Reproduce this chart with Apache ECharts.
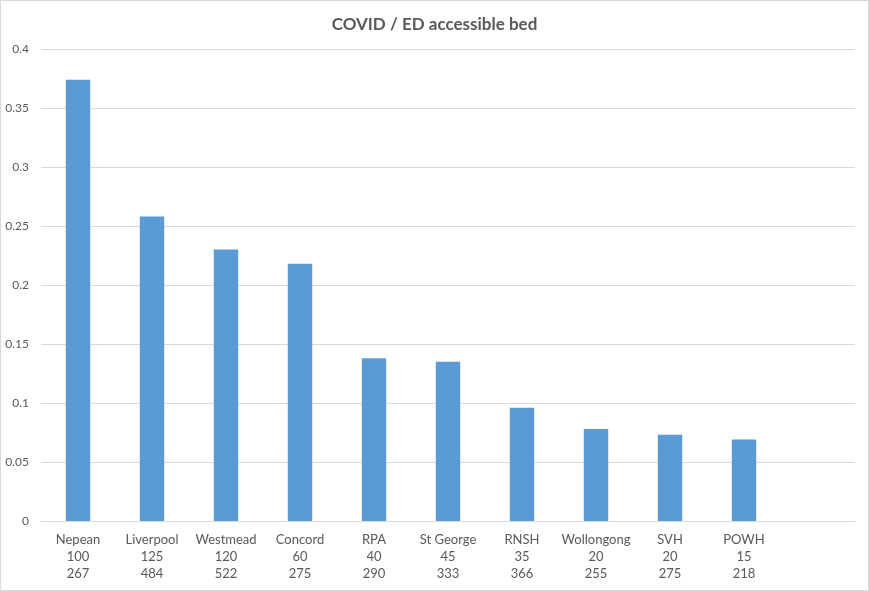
<!DOCTYPE html>
<html><head><meta charset="utf-8">
<script src="https://cdn.jsdelivr.net/npm/echarts@6/dist/echarts.min.js"></script>
<style>html,body{margin:0;padding:0;background:#fff}#c{width:869px;height:591px;box-sizing:border-box;border:1px solid #d9d9d9}</style>
</head><body><div id="c"></div>
<script>
const hospitals = ['Nepean','Liverpool','Westmead','Concord','RPA','St George','RNSH','Wollongong','SVH','POWH',''];
const covidCounts = ['100','125','120','60','40','45','35','20','20','15',''];
const edBeds = ['267','484','522','275','290','333','366','255','275','218',''];
const ratios = [0.374, 0.258, 0.230, 0.218, 0.138, 0.135, 0.096, 0.078, 0.073, 0.069, null];
const categories = hospitals.map((h,i)=> h ? h+'\n'+covidCounts[i]+'\n'+edBeds[i] : '');
const chart = echarts.init(document.getElementById('c'));
chart.setOption({
  animation:false,
  title:{text:'COVID / ED accessible bed',left:'center',top:10,textStyle:{fontFamily:'Lato',fontSize:17,fontWeight:'bold',color:'#595959'}},
  grid:{left:40,right:13,top:48,bottom:69},
  xAxis:{type:'category',data:categories,axisTick:{show:false},
    axisLine:{lineStyle:{color:'#d9d9d9'}},
    axisLabel:{interval:0,color:'#595959',fontFamily:'Lato',fontSize:13,lineHeight:17,margin:10}},
  yAxis:{type:'value',min:0,max:0.4,interval:0.05,
    axisLabel:{color:'#595959',fontFamily:'Lato',fontSize:12,margin:12,formatter:v=>String(+v.toFixed(2))},
    splitLine:{lineStyle:{color:'#d9d9d9'}},axisLine:{show:false},axisTick:{show:false}},
  series:[{type:'bar',data:ratios,barWidth:'33%',itemStyle:{color:'#5b9bd5'}}]
});
</script></body></html>
